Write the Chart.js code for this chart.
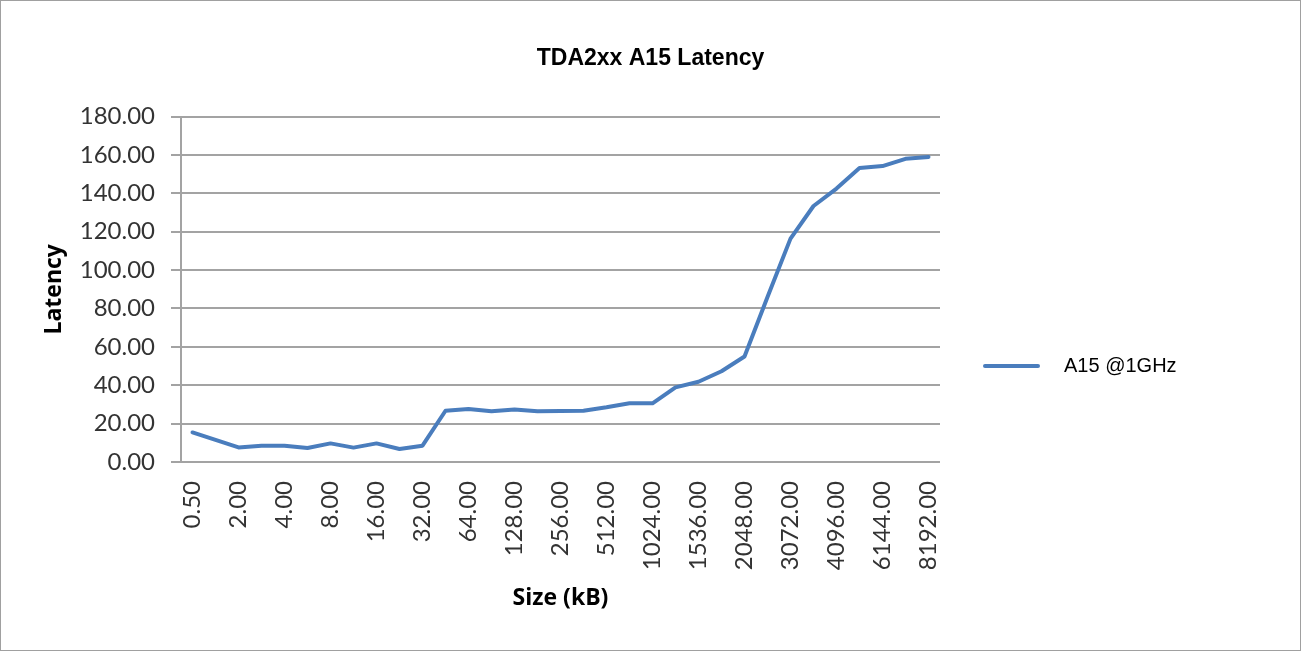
<!DOCTYPE html>
<html>
<head>
<meta charset="utf-8">
<title>TDA2xx A15 Latency</title>
<script src="https://cdn.jsdelivr.net/npm/chart.js@4.4.1/dist/chart.umd.min.js"></script>
<style>
  html, body { margin: 0; padding: 0; background: #ffffff; }
  #frame {
    position: absolute; left: 0; top: 0;
    width: 1301px; height: 651px;
    box-sizing: border-box;
    border: 1px solid #a0a0a0;
    background: #ffffff;
  }
  canvas { display: block; }
</style>
</head>
<body>
<div id="frame"><canvas id="chart" width="1299" height="649"></canvas></div>
<script>
// Buffer sizes tested (kB)
const sizes = [0.5, 1, 2, 3, 4, 6, 8, 12, 16, 24, 32, 48, 64, 96, 128, 192, 256, 384,
               512, 768, 1024, 1280, 1536, 1792, 2048, 2560, 3072, 3584, 4096, 5120,
               6144, 7168, 8192];

// Measured load latency for the A15 core at 1 GHz
const latency = [15.4, 11.5, 7.6, 8.5, 8.5, 7.3, 9.7, 7.5, 9.7, 6.8, 8.5, 26.7, 27.6, 26.4,
                 27.4, 26.4, 26.6, 26.7, 28.5, 30.6, 30.6, 38.9, 41.8, 47.3, 55.0, 86.0,
                 116.4, 133.4, 142.5, 153.2, 154.2, 158.0, 159.0];

const seriesName = 'A15 @1GHz';
const chartTitle = 'TDA2xx A15 Latency';
const xTitle = 'Size (kB)';
const yTitle = 'Latency';

// Category labels, printed on every second category
const sizeLabels = sizes.map(s => s.toFixed(2));

const lineColor = '#4a7dbd';
const gridColor = '#a3a3a3';
const tickColor = '#333333';

// Legend drawn to the right of the plot area
const sideLegend = {
  id: 'sideLegend',
  afterDraw(chart) {
    const ds = chart.data.datasets[0];
    const c = chart.ctx;
    const x0 = chart.chartArea.right + 45;
    const y = 365;
    c.save();
    c.strokeStyle = ds.borderColor;
    c.lineWidth = 4;
    c.lineCap = 'round';
    c.beginPath();
    c.moveTo(x0, y);
    c.lineTo(x0 + 53, y);
    c.stroke();
    c.font = '20px "Liberation Sans", Arial, sans-serif';
    c.fillStyle = '#000000';
    c.textAlign = 'left';
    c.textBaseline = 'middle';
    c.fillText(ds.label, x0 + 79, y);
    c.restore();
  }
};

function draw() {
  const ctx = document.getElementById('chart').getContext('2d');
  new Chart(ctx, {
    type: 'line',
    data: {
      labels: sizeLabels,
      datasets: [{
        label: seriesName,
        data: latency,
        borderColor: lineColor,
        backgroundColor: lineColor,
        borderWidth: 4,
        borderJoinStyle: 'round',
        borderCapStyle: 'round',
        pointRadius: 0,
        pointHoverRadius: 0,
        tension: 0,
        fill: false
      }]
    },
    options: {
      responsive: false,
      animation: false,
      devicePixelRatio: 1,
      layout: { padding: 0 },
      plugins: {
        legend: { display: false },
        tooltip: { enabled: false },
        title: {
          display: true,
          text: chartTitle,
          color: '#000000',
          font: { family: '"Liberation Sans", Arial, sans-serif', size: 23, weight: 'bold' },
          padding: { top: 44, bottom: 44 }
        }
      },
      scales: {
        x: {
          type: 'category',
          offset: true,
          grid: { display: false, drawTicks: false },
          border: { display: false },
          ticks: {
            autoSkip: false,
            minRotation: 90,
            maxRotation: 90,
            padding: 19,
            color: tickColor,
            font: { family: 'Lato, "Open Sans", sans-serif', size: 24 },
            callback: (v, i) => (i % 2 === 0 ? sizeLabels[i] : '')
          },
          title: {
            display: true,
            text: xTitle,
            color: '#000000',
            font: { family: '"Open Sans", Lato, sans-serif', size: 23, weight: 'bold' },
            padding: { top: 0, bottom: 38 }
          },
          afterFit: s => { s.height = 188; }
        },
        y: {
          min: 0,
          max: 180,
          ticks: {
            stepSize: 20,
            padding: 16,
            color: tickColor,
            font: { family: 'Lato, "Open Sans", sans-serif', size: 24 },
            callback: v => Number(v).toFixed(2)
          },
          grid: {
            color: gridColor,
            lineWidth: 2,
            drawTicks: true,
            tickLength: 10,
            tickColor: gridColor
          },
          border: { display: true, color: gridColor, width: 2 },
          title: {
            display: true,
            text: yTitle,
            color: '#000000',
            font: { family: '"Open Sans", Lato, sans-serif', size: 23, weight: 'bold' },
            padding: { top: 40, bottom: 0 }
          },
          afterFit: s => { s.width = 180; }
        },
        // keeps the right-hand strip free for the legend
        legendStrip: {
          type: 'linear',
          position: 'right',
          display: true,
          grid: { display: false, drawTicks: false },
          border: { display: false },
          ticks: { display: false },
          afterFit: s => { s.width = 360; }
        }
      }
    },
    plugins: [sideLegend]
  });
}

const faces = ['24px Lato', 'bold 23px "Open Sans"', 'bold 23px "Liberation Sans"', '20px "Liberation Sans"'];
Promise.all(faces.map(f => document.fonts.load(f).catch(() => null)))
  .then(draw, draw);
</script>
</body>
</html>
